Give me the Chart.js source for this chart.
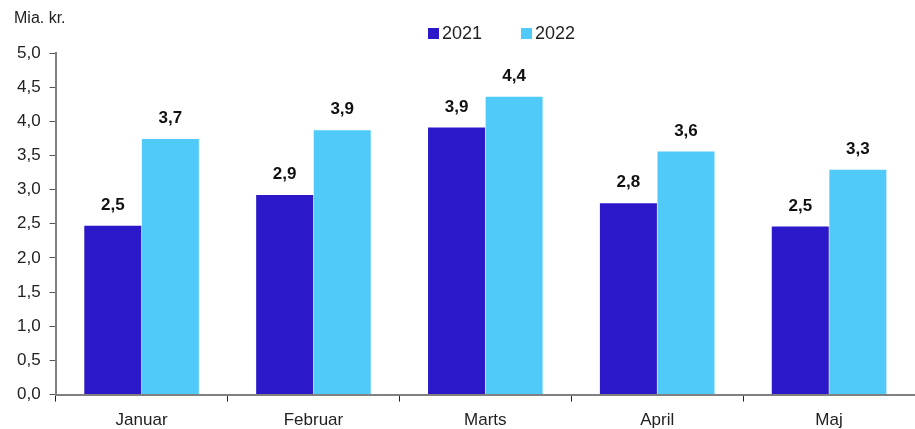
<!DOCTYPE html>
<html>
<head>
<meta charset="utf-8">
<script src="https://cdn.jsdelivr.net/npm/chart.js@4"></script>
<style>
  html, body { margin: 0; padding: 0; background: #fff; }
  #wrap { position: relative; width: 915px; height: 429px; }
</style>
</head>
<body>
<div id="wrap"><canvas id="chart" width="915" height="429"></canvas></div>
<script>
// ─── Data ─────────────────────────────────────────────
const MONTHS   = ["Januar", "Februar", "Marts", "April", "Maj"];
const SERIES   = ["2021", "2022"];
const V2021    = [2.47, 2.92, 3.91, 2.80, 2.46];
const V2022    = [3.74, 3.87, 4.36, 3.56, 3.29];
const COLORS   = ["#2b19c9", "#4fcaf9"];
const UNIT     = "Mia. kr.";

const FONT = "'Liberation Sans', Arial, sans-serif";
const fmt  = v => v.toFixed(1).replace(".", ",");

// ─── Labels, unit text and legend ─────────────────────
const extras = {
  id: "extras",
  afterDatasetsDraw(chart) {
    const ctx = chart.ctx;
    ctx.save();
    ctx.font = "bold 17px " + FONT;
    ctx.fillStyle = "#111";
    ctx.textAlign = "center";
    ctx.textBaseline = "bottom";
    chart.data.datasets.forEach((ds, i) => {
      chart.getDatasetMeta(i).data.forEach((bar, j) => {
        ctx.fillText(fmt(ds.data[j]), bar.x, bar.y - 12);
      });
    });

    ctx.font = "16px " + FONT;
    ctx.fillStyle = "#222";
    ctx.textAlign = "left";
    ctx.textBaseline = "middle";
    ctx.fillText(UNIT, 14, 19);

    // legend
    const items = [[428, SERIES[0], COLORS[0]], [521, SERIES[1], COLORS[1]]];
    items.forEach(([x, txt, col]) => {
      ctx.fillStyle = col;
      ctx.fillRect(x, 28, 11, 11);
      ctx.fillStyle = "#222";
      ctx.font = "18px " + FONT;
      ctx.fillText(txt, x + 14, 34);
    });
    ctx.restore();
  }
};

new Chart(document.getElementById("chart"), {
  type: "bar",
  data: {
    labels: MONTHS,
    datasets: [
      { label: SERIES[0], data: V2021, backgroundColor: COLORS[0], borderWidth: 0 },
      { label: SERIES[1], data: V2022, backgroundColor: COLORS[1], borderWidth: 0 },
    ],
  },
  options: {
    responsive: false,
    animation: false,
    layout: { padding: { top: 53, left: 8, right: 0, bottom: -11 } },
    datasets: { bar: { categoryPercentage: 0.67, barPercentage: 0.99 } },
    plugins: { legend: { display: false }, tooltip: { enabled: false } },
    scales: {
      x: {
        grid: { drawOnChartArea: false, tickLength: 7, color: "#222", tickWidth: 1 },
        border: { color: "#808080", width: 2 },
        ticks: { color: "#222", font: { family: FONT, size: 17 }, padding: 9 },
      },
      y: {
        min: 0, max: 5,
        grid: { drawOnChartArea: false, tickLength: 6, color: "#555" },
        border: { color: "#808080", width: 2 },
        ticks: {
          stepSize: 0.5, color: "#222", padding: 9,
          font: { family: FONT, size: 17 },
          callback: v => fmt(v),
        },
      },
    },
  },
  plugins: [extras],
});
</script>
</body>
</html>
